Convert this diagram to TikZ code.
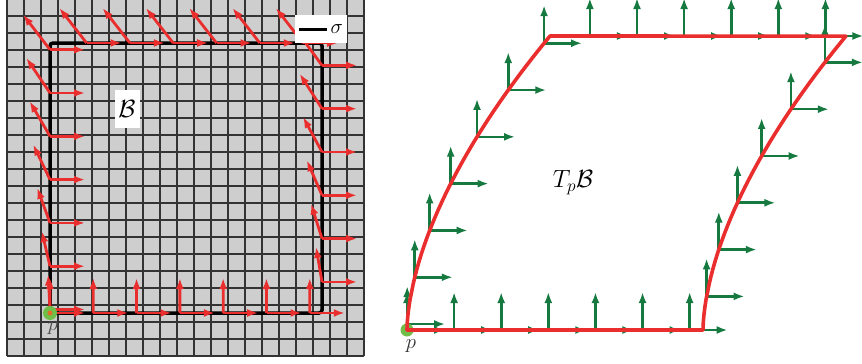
\documentclass[tikz,border=0pt]{standalone}
\usetikzlibrary{arrows.meta}
\definecolor{frameRed}{RGB}{234,46,46}
\definecolor{devGreen}{RGB}{22,122,64}
\definecolor{cellGray}{RGB}{206,206,206}
\definecolor{pointGreen}{RGB}{112,190,72}
\definecolor{pointCore}{RGB}{226,110,40}
\tikzset{
  redvec/.style={draw=frameRed, line width=2.8pt, -{Latex[length=11pt,width=8pt]}},
  greenvec/.style={draw=devGreen, line width=2.6pt, -{Latex[length=11pt,width=8pt]}},
  sigmaline/.style={draw=black, line width=3.5pt},
  devline/.style={draw=frameRed, line width=3.6pt, line join=round},
  labelbox/.style={fill=white, inner sep=2pt},
  bigmath/.style={font=\fontsize{23}{23}\selectfont},
  midmath/.style={font=\fontsize{20}{20}\selectfont},
}
\begin{document}
\begin{tikzpicture}[x=1pt, y=-1pt]
\useasboundingbox (0,0) rectangle (862,364);
% sizes in pixels of the reference
\def\cellsz{17}
\providecommand{\vecLen}{35}
\providecommand{\devLen}{38}
\providecommand{\stepLen}{43.3}
\providecommand{\devScale}{1.088}
\begin{scope}
  \clip (0,0) rectangle (862,364);
  % Body grid
  \fill[cellGray] (7,-1) rectangle (364,356);
  \begin{scope}[draw=black!80, line width=1.6pt]
    \foreach \i in {0,...,21} {
      \draw ({7+\i*\cellsz},-1) -- ({7+\i*\cellsz},356);
      \draw (7,{356-\i*\cellsz}) -- (364,{356-\i*\cellsz});
    }
  \end{scope}
  % Loop sigma
  \draw[sigmaline, rounded corners=3pt] (50,43) rectangle (322,313);
  % Frame field along sigma (left) and its development (right)
  \foreach \k in {0,...,25} {
    \pgfmathsetmacro{\s}{\k*\stepLen}
    \ifnum\k<7
      \pgfmathsetmacro{\px}{50+\s}\def\py{313}\def\hfrac{0}
      \pgfmathsetmacro{\qx}{407+\devScale*\s}\def\qy{330}
    \else\ifnum\k<13
      \pgfmathsetmacro{\hfrac}{(\s-272)/272}
      \def\px{322}\pgfmathsetmacro{\py}{313-(\s-272)}
      \pgfmathsetmacro{\qx}{703+143*pow(\hfrac,1.7)}\pgfmathsetmacro{\qy}{330-294*\hfrac}
    \else\ifnum\k<19
      \def\hfrac{1}
      \pgfmathsetmacro{\px}{322-(\s-544)}\def\py{43}
      \pgfmathsetmacro{\qx}{846-\devScale*(\s-544)}\def\qy{36}
    \else
      \pgfmathsetmacro{\hfrac}{1-(\s-816)/272}
      \def\px{50}\pgfmathsetmacro{\py}{43+(\s-816)}
      \pgfmathsetmacro{\qx}{407+143*pow(\hfrac,1.7)}\pgfmathsetmacro{\qy}{330-294*\hfrac}
    \fi\fi\fi
    \pgfmathsetmacro{\tilt}{0.78*pow(max(\hfrac,0.0001),0.7)}
    \draw[redvec] (\px,\py) -- ++(\vecLen,0);
    \draw[redvec] (\px,\py) -- ++({-\vecLen*\tilt},-\vecLen);
    \draw[greenvec] (\qx,\qy) -- ++(\devLen,0);
    \draw[greenvec] (\qx,\qy) -- ++(0,-\devLen);
  }
  % Developed loop in the tangent space
  \fill[pointGreen] (407,330) circle (6.5);
  \draw[devline] (407,330) -- (703,330)
    -- plot[domain=0.001:1, samples=40] ({703+143*pow(\x,1.7)},{330-294*\x})
    -- plot[domain=1:0.001, samples=40] ({407+143*pow(\x,1.7)},{330-294*\x}) -- cycle;
\end{scope}
% Base point p
\fill[pointGreen] (50,313) circle (7);
\fill[pointCore] (50,313) circle (2.5);
\node[midmath, text=black!70] (pLeft) at (53,328) {$p$};
\node[midmath, text=black!80] (pRight) at (411,346) {$p$};
% Labels
\node[labelbox, bigmath, minimum width=25pt, minimum height=38pt] (bodyLabel) at (127,109) {$\mathcal{B}$};
\node[labelbox, midmath, minimum height=28pt, inner xsep=4pt] (sigmaLegend) at (321,29) {\rule[0.25ex]{28pt}{3.5pt}\,$\sigma$};
\node[bigmath] (tangentLabel) at (573,183) {$T_p\mathcal{B}$};
\end{tikzpicture}
\end{document}
